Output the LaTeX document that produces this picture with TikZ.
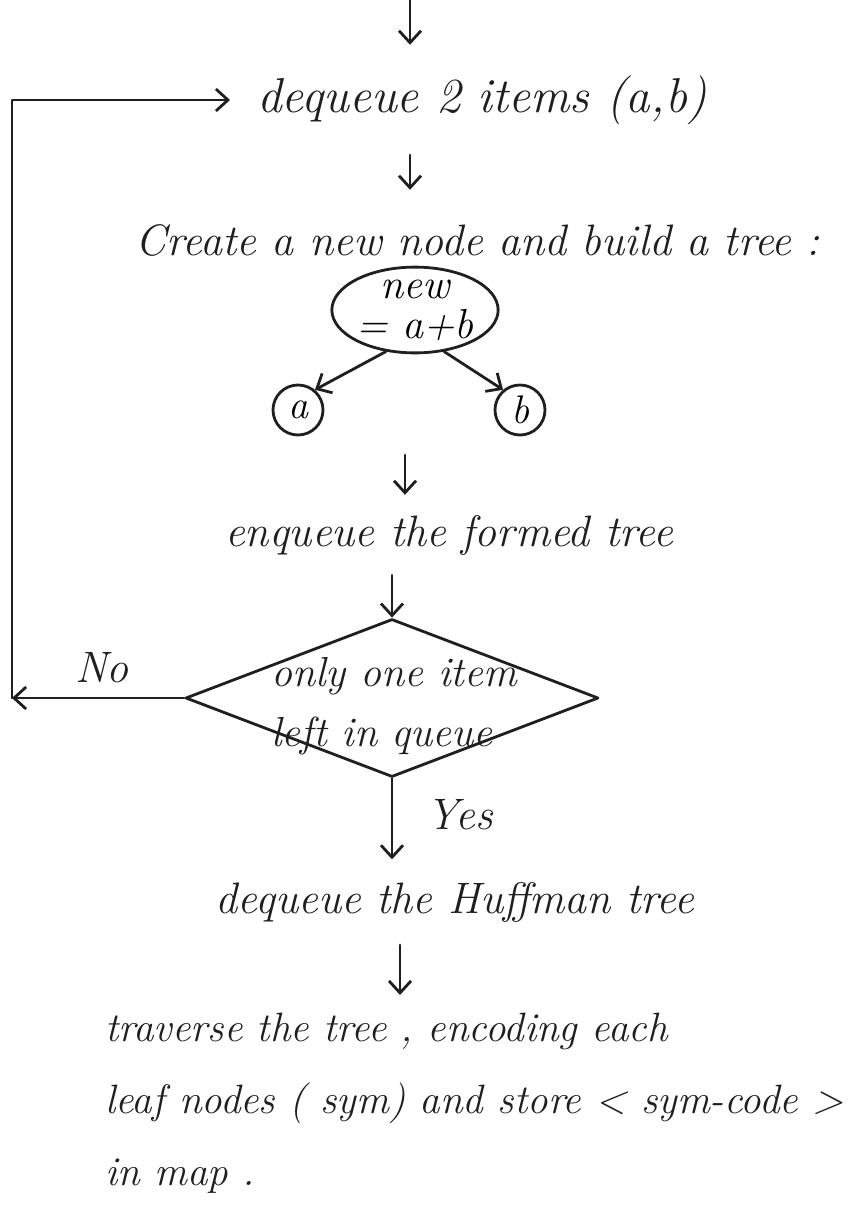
\documentclass[tikz,border=0pt]{standalone}
\usetikzlibrary{arrows.meta,shapes.geometric}
\begin{document}
\begin{tikzpicture}[x=1pt,y=-1pt,
  ink/.style={line width=2.8pt, draw=black!88, line cap=round, line join=round},
  arr/.style={ink, -{Straight Barb[length=12pt,width=22pt,line width=2.8pt]}},
  hand/.style={font=\fontsize{44}{52}\selectfont\itshape, text=black!88, inner sep=0pt},
  leaf/.style={circle, ink, minimum size=50pt, inner sep=0pt, font=\fontsize{40}{42}\selectfont\itshape},
]
\useasboundingbox (0,0) rectangle (848,1220);

% flow nodes
\node[hand, font=\fontsize{49}{52}\selectfont\itshape, minimum height=110pt, inner xsep=27pt] (deq) at (482,100) {dequeue 2 items (a,b)};
\node[hand, minimum height=100pt] (create) at (478,240) {Create a new node and build a tree :};
\node[ellipse, ink, minimum width=162pt, minimum height=84pt, inner sep=0pt, align=center,
      font=\fontsize{42}{40}\selectfont\itshape] (sum) at (415,310) {new\\= a+b};
\node[leaf] (la) at (298,410) {a};
\node[leaf] (lb) at (520,410) {b};
\node[hand, minimum height=80pt] (enq) at (449,535) {enqueue the formed tree};
\node[diamond, ink, minimum width=413pt, minimum height=158pt, inner sep=0pt] (dia) at (392,698) {};
\node[hand, align=left, font=\fontsize{42}{60}\selectfont\itshape] (dtext) at (394,706) {only one item\\left in queue};
\node[hand] (no) at (102,668) {No};
\node[hand] (yes) at (460,815) {Yes};
\node[hand, minimum height=85pt] (huff) at (455,902) {dequeue the Huffman tree};
\node[hand, align=left, anchor=north west, inner ysep=18pt, font=\fontsize{41}{72}\selectfont\itshape] (trav) at (105,995)
  {traverse the tree , encoding each\\leaf nodes ( sym) and store < sym-code >\\in map .};

% connectors
\coordinate (in) at (410,0);
\coordinate (c1) at (410,155);
\coordinate (c2) at (405,455);
\coordinate (c3) at (400,945);
\coordinate (loopx) at (12,0);

\draw[arr] (in) -- (in |- deq.north);
\draw[arr] (c1) -- (c1 |- create.north);
\draw[arr] (sum.235) -- (la.50);
\draw[arr] (sum.305) -- (lb.130);
\draw[arr] (c2) -- (c2 |- enq.north);
\draw[arr] (enq.south -| dia.north) -- (dia.north);
\draw[arr] (dia.south) -- (dia.south |- huff.north);
\draw[arr] (c3) -- (c3 |- trav.north);
\draw[arr] (dia.west) -- (dia.west -| loopx);
\draw[arr] (dia.west -| loopx) -- (loopx |- deq.west) -- (deq.west);
\end{tikzpicture}
\end{document}
